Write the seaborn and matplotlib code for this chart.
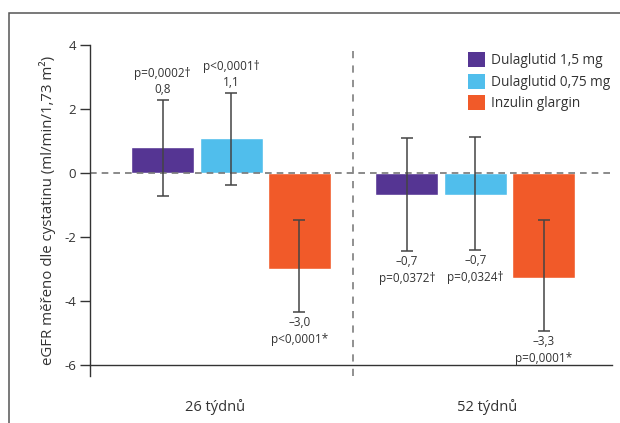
import numpy as np
import pandas as pd
import matplotlib
matplotlib.use("Agg")
from matplotlib import pyplot as plt
from matplotlib.patches import Rectangle, Patch
import matplotlib.transforms as mtransforms
import seaborn as sns

weeks = ["26 týdnů", "52 týdnů"]
treatments = ["Dulaglutid 1,5 mg", "Dulaglutid 0,75 mg", "Inzulin glargin"]
colors = ["#553593", "#50BEEC", "#F15A29"]

# values per treatment, in order of weeks
values = {
    "Dulaglutid 1,5 mg": [0.8, -0.7],
    "Dulaglutid 0,75 mg": [1.1, -0.7],
    "Inzulin glargin": [-3.0, -3.3],
}
err_low = {
    "Dulaglutid 1,5 mg": [-0.73, -2.45],
    "Dulaglutid 0,75 mg": [-0.38, -2.42],
    "Inzulin glargin": [-4.35, -4.95],
}
err_high = {
    "Dulaglutid 1,5 mg": [2.27, 1.08],
    "Dulaglutid 0,75 mg": [2.49, 1.11],
    "Inzulin glargin": [-1.48, -1.48],
}
value_labels = {
    "Dulaglutid 1,5 mg": ["0,8", "–0,7"],
    "Dulaglutid 0,75 mg": ["1,1", "–0,7"],
    "Inzulin glargin": ["–3,0", "–3,3"],
}
p_labels = {
    "Dulaglutid 1,5 mg": ["p=0,0002†", "p=0,0372†"],
    "Dulaglutid 0,75 mg": ["p<0,0001†", "p=0,0324†"],
    "Inzulin glargin": ["p<0,0001*", "p=0,0001*"],
}
week_label_x = [-0.066, 1.05]

rows = []
for t in treatments:
    for i, w in enumerate(weeks):
        rows.append({"week": w, "treatment": t, "value": values[t][i]})
df = pd.DataFrame(rows)

sns.set_style("white")
plt.rcParams["font.family"] = ["Open Sans", "DejaVu Sans"]
text_color = "#333333"

fig = plt.figure(figsize=(6.2, 4.23), dpi=100)
ax = fig.add_axes([90 / 620, 47 / 423, 522 / 620, 331 / 423])

sns.barplot(data=df, x="week", y="value", hue="treatment", hue_order=treatments,
            palette=colors, width=0.84, gap=0.08, saturation=1, errorbar=None,
            legend=False, ax=ax)

for container, t in zip(ax.containers, treatments):
    for i, bar in enumerate(container):
        xc = bar.get_x() + bar.get_width() / 2
        v = values[t][i]
        lo, hi = err_low[t][i], err_high[t][i]
        ax.errorbar(xc, v, yerr=[[v - lo], [hi - v]], fmt="none",
                    ecolor="#444444", elinewidth=1.1, capsize=4, capthick=1.1, zorder=4)
        if v > 0:
            ax.annotate(value_labels[t][i], (xc, hi), xytext=(0, 3), textcoords="offset points",
                        ha="center", va="bottom", fontsize=8.5, color=text_color)
            ax.annotate(p_labels[t][i], (xc, hi), xytext=(0, 14.5), textcoords="offset points",
                        ha="center", va="bottom", fontsize=8.5, color=text_color)
        else:
            ax.annotate(value_labels[t][i], (xc, lo), xytext=(0, -3), textcoords="offset points",
                        ha="center", va="top", fontsize=8.5, color=text_color)
            ax.annotate(p_labels[t][i], (xc, lo), xytext=(0, -15), textcoords="offset points",
                        ha="center", va="top", fontsize=8.5, color=text_color)

ax.axhline(0, color="#777777", linestyle=(0, (4, 3)), linewidth=1.2, zorder=1)
ax.axvline(0.5, color="#888888", linestyle=(0, (4, 4)), linewidth=1.3, zorder=1)

ax.set_xlim(-0.578, 1.56)
ax.set_ylim(-6.35, 4)
ax.set_yticks([4, 2, 0, -2, -4, -6])
ax.set_yticklabels(["4", "2", "0", "-2", "-4", "-6"])
ax.tick_params(axis="y", direction="out", length=7, width=1, color="#333333",
               labelsize=9.5, labelcolor=text_color, pad=3, left=True)
ax.set_xticks([])

trans = mtransforms.blended_transform_factory(ax.transData, ax.transAxes)
for x, w in zip(week_label_x, weeks):
    ax.text(x, -0.094, w, transform=trans, ha="center", va="center",
            fontsize=10.5, color=text_color)

for s in ["top", "right"]:
    ax.spines[s].set_visible(False)
ax.spines["bottom"].set_position(("data", -6))
ax.spines["bottom"].set_color("#333333")
ax.spines["left"].set_color("#333333")
ax.spines["left"].set_linewidth(1)
ax.spines["bottom"].set_linewidth(1)

ax.set_xlabel("")
ax.set_ylabel("eGFR měřeno dle cystatinu (ml/min/1,73 m²)", fontsize=10.8,
              color=text_color, labelpad=6)

handles = [Patch(facecolor=c, edgecolor="none") for c in colors]
ax.legend(handles, treatments, loc="upper left", bbox_to_anchor=(0.70, 1.015),
          frameon=False, fontsize=9.8, handlelength=1.25, handleheight=1.3,
          labelspacing=0.4, handletextpad=0.5, labelcolor=text_color)

fig.patches.append(Rectangle((9 / 620, -0.05), 1.2, (423 - 13) / 423 + 0.05,
                             transform=fig.transFigure, fill=False,
                             edgecolor="#555555", linewidth=1.1))

fig.savefig("out.png", dpi=100)
